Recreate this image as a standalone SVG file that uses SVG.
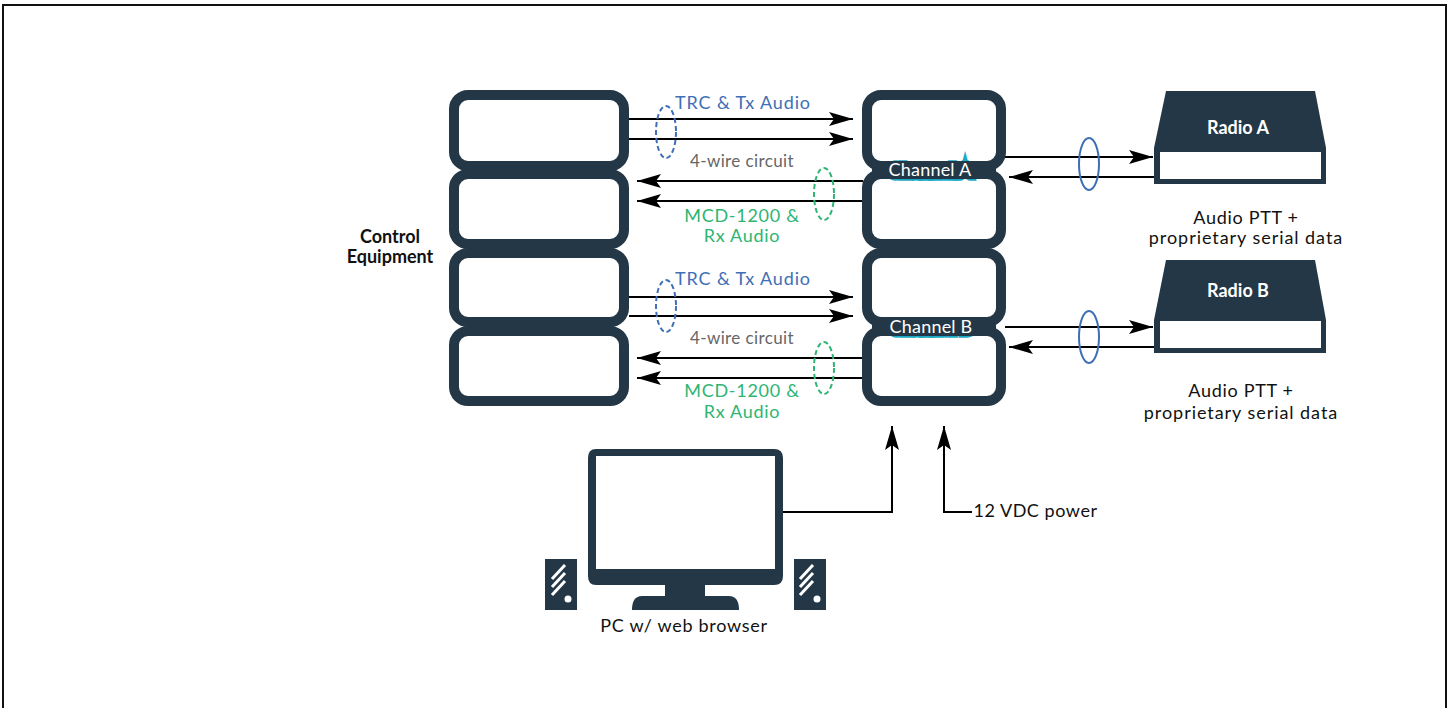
<svg xmlns="http://www.w3.org/2000/svg" width="1448" height="708" viewBox="0 0 1448 708">
<defs>
<marker id="arr" markerUnits="userSpaceOnUse" markerWidth="24" markerHeight="14" refX="24" refY="7" orient="auto-start-reverse"><path d="M0 0L24 7L0 14L5 7Z" fill="#000"/></marker>
</defs>
<style>
text{font-family:"Lato","Noto Sans","Liberation Sans",sans-serif;font-size:18px;text-anchor:middle;letter-spacing:.7px}
.box{fill:#fff;stroke:#243746;stroke-width:10}
.dark{fill:#243746}
.w{stroke:#000;stroke-width:2;fill:none}
.blue{fill:#3f6fb5;letter-spacing:.85px}.green{fill:#2fb573}.gray{fill:#666;font-size:17px;letter-spacing:.4px}.blk{fill:#111}.wh{fill:#fff}
.b{font-weight:700;letter-spacing:0}
.wide{letter-spacing:.95px}
.pw{letter-spacing:.55px}
.halo{fill:none;stroke:#19a9c4;stroke-width:7.5;letter-spacing:.2px}
.ch{letter-spacing:.2px}
.ring{fill:none;stroke:#3f6fb5;stroke-width:2}
.dashb{fill:none;stroke:#3f6fb5;stroke-width:2;stroke-dasharray:5 3}
.dashg{fill:none;stroke:#2fb573;stroke-width:2;stroke-dasharray:5 3}
</style>
<rect x="3" y="5" width="1443" height="710" fill="#fff" stroke="#111" stroke-width="2"/>
<g id="connectors">
<path class="w" d="M629 119H853" marker-end="url(#arr)"/>
<path class="w" d="M629 139H853" marker-end="url(#arr)"/>
<path class="w" d="M863 181H637" marker-end="url(#arr)"/>
<path class="w" d="M863 201H637" marker-end="url(#arr)"/>
<path class="w" d="M629 297H853" marker-end="url(#arr)"/>
<path class="w" d="M629 316H853" marker-end="url(#arr)"/>
<path class="w" d="M863 358H637" marker-end="url(#arr)"/>
<path class="w" d="M863 378H637" marker-end="url(#arr)"/>
<path class="w" d="M1005 157H1153" marker-end="url(#arr)"/>
<path class="w" d="M1155 177H1009" marker-end="url(#arr)"/>
<path class="w" d="M1005 327H1153" marker-end="url(#arr)"/>
<path class="w" d="M1155 347H1009" marker-end="url(#arr)"/>
<path class="w" d="M782 512H892V426" marker-end="url(#arr)"/>
<path class="w" d="M972 512H944V426" marker-end="url(#arr)"/>
<ellipse class="dashb" cx="666" cy="132" rx="10" ry="26"/>
<ellipse class="dashg" cx="824" cy="194" rx="10" ry="26"/>
<ellipse class="dashb" cx="666" cy="306" rx="10" ry="26"/>
<ellipse class="dashg" cx="824" cy="368" rx="10" ry="26"/>
<ellipse class="ring" cx="1089" cy="164" rx="10" ry="26"/>
<ellipse class="ring" cx="1089" cy="337" rx="10" ry="26"/>
</g>
<g id="control-1"><rect class="box" x="454" y="95" width="170" height="71" rx="14"/></g>
<g id="control-2"><rect class="box" x="454" y="174" width="170" height="70" rx="14"/></g>
<g id="control-3"><rect class="box" x="454" y="253" width="170" height="69" rx="14"/></g>
<g id="control-4"><rect class="box" x="454" y="331" width="170" height="70" rx="14"/></g>
<g id="channel-a">
<rect class="box" x="867" y="95" width="134" height="71" rx="14"/>
<rect class="box" x="867" y="174" width="134" height="70" rx="14"/>
<text class="halo" x="930" y="176.5">Channel A</text>
<rect class="dark" x="872" y="161" width="124" height="18"/>
<text class="wh ch" x="930" y="176">Channel A</text>
</g>
<g id="channel-b">
<rect class="box" x="867" y="253" width="134" height="69" rx="14"/>
<rect class="box" x="867" y="331" width="134" height="70" rx="14"/>
<text class="halo" x="931" y="334">Channel B</text>
<rect class="dark" x="872" y="317" width="124" height="19"/>
<text class="wh ch" x="931" y="333">Channel B</text>
</g>
<g id="radio-a">
<path class="dark" d="M1166 91H1315L1326 148V184H1154V148Z"/>
<rect class="wh" x="1160" y="152" width="161" height="27"/>
<text class="wh b" x="1238" y="134">Radio A</text>
</g>
<g id="radio-b">
<path class="dark" d="M1166 260H1315L1326 320V353H1154V320Z"/>
<rect class="wh" x="1160" y="321" width="161" height="27"/>
<text class="wh b" x="1238" y="297">Radio B</text>
</g>
<g id="pc">
<path class="dark" fill-rule="evenodd" d="M596 449H774Q783 449 783 458V576Q783 585 774 585H705V596H729Q739 596 739 610H632Q632 596 642 596H665V585H596Q588 585 588 576V458Q588 449 596 449ZM596 456V569H775V456Z"/>
<rect class="dark" x="545" y="559" width="32" height="51"/>
<rect class="dark" x="794" y="559" width="32" height="51"/>
<path d="M552 579L565 565M552 587L565 573M552 595L565 581M800 579L813 565M800 587L813 573M800 595L813 581" stroke="#fff" stroke-width="3" fill="none"/>
<circle class="wh" cx="568" cy="599" r="3.5"/>
<circle class="wh" cx="817" cy="599" r="3.5"/>
</g>
<g id="labels">
<text class="blue" x="743" y="109">TRC &amp; Tx Audio</text>
<text class="gray" x="742" y="167">4-wire circuit</text>
<text class="green" x="742" y="222">MCD-1200 &amp;</text>
<text class="green" x="742" y="242">Rx Audio</text>
<text class="blue" x="743" y="285">TRC &amp; Tx Audio</text>
<text class="gray" x="742" y="344">4-wire circuit</text>
<text class="green" x="742" y="397">MCD-1200 &amp;</text>
<text class="green" x="742" y="418">Rx Audio</text>
<text class="blk b" x="390" y="243">Control</text>
<text class="blk b" x="390" y="263">Equipment</text>
<text class="blk" x="1246" y="224">Audio PTT +</text>
<text class="blk wide" x="1246" y="244">proprietary serial data</text>
<text class="blk" x="1241" y="397">Audio PTT +</text>
<text class="blk wide" x="1241" y="419">proprietary serial data</text>
<text class="blk pw" x="1035.5" y="517">12 VDC power</text>
<text class="blk" x="684" y="632">PC w/ web browser</text>
</g>
</svg>
